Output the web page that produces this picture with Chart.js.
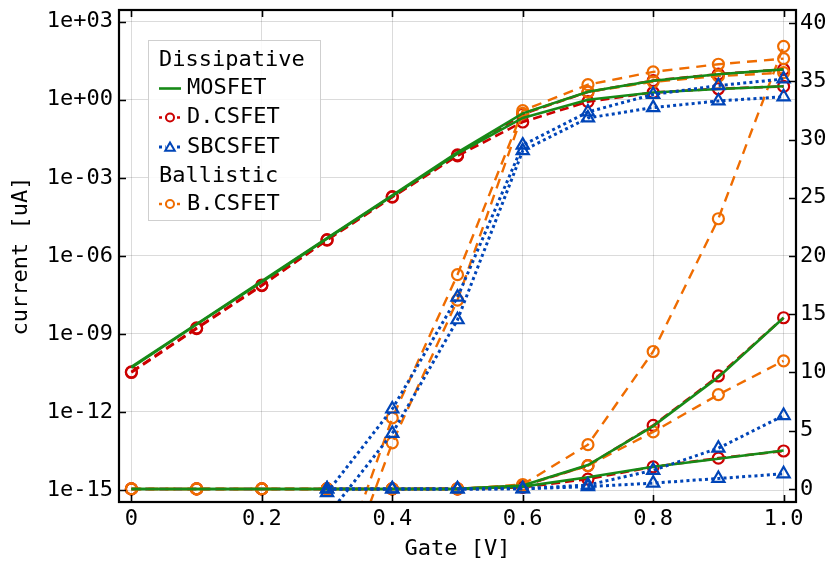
<!DOCTYPE html>
<html>
<head>
<meta charset="utf-8">
<script src="https://cdn.jsdelivr.net/npm/chart.js@4/dist/chart.umd.min.js"></script>
<style>
  html, body { margin: 0; padding: 0; background: #ffffff; }
  #wrap { width: 826px; height: 564px; }
</style>
</head>
<body>
<div id="wrap"><canvas id="c" width="826" height="564"></canvas></div>
<script>
// ---------------- data ----------------
const gateV = [0.0, 0.1, 0.2, 0.3, 0.4, 0.5, 0.6, 0.7, 0.8, 0.9, 1.0];

// currents in uA; each series is drawn twice: log (left) and linear (right)
const mosfetHigh  = [5.4e-11, 2.4e-9, 1.07e-7, 4.8e-6, 2.1e-4, 9.5e-3, 0.30, 2.05, 5.4, 9.6, 14.7];
const mosfetLow   = [5.0e-11, 2.3e-9, 1.0e-7, 4.6e-6, 2.0e-4, 8.5e-3, 0.20, 1.0, 1.9, 2.6, 3.3];
const dcsfetHigh  = [3.5e-11, 1.7e-9, 7.6e-8, 4.2e-6, 1.9e-4, 7.6e-3, 0.28, 2.0, 5.45, 9.7, 14.7];
const dcsfetLow   = [3.3e-11, 1.6e-9, 7.2e-8, 4.0e-6, 1.8e-4, 7.0e-3, 0.14, 0.85, 1.9, 2.65, 3.26];
const sbcsfetHigh = [null, null, null, 8e-16, 1.3e-12, 2.6e-8, 0.018, 0.34, 1.6, 3.5, 6.3];
const sbcsfetLow  = [null, null, null, 1e-16, 1.5e-13, 3.5e-9, 0.011, 0.2, 0.5, 0.9, 1.3];
const bcsfetHigh  = [1e-30, 1e-28, 1e-24, 5e-20, 5.9e-13, 1.9e-7, 0.38, 3.8, 11.8, 23.2, 38.0];
const bcsfetLow   = [1e-31, 1e-29, 1e-25, 1e-20, 6.5e-14, 2.0e-8, 0.30, 2.0, 4.9, 8.1, 11.0];

const xTickValues = [0, 0.2, 0.4, 0.6, 0.8, 1.0];
const xTickLabels = ['0', '0.2', '0.4', '0.6', '0.8', '1.0'];
const logTickValues = [1e3, 1e0, 1e-3, 1e-6, 1e-9, 1e-12, 1e-15];
const logTickLabels = ['1e+03', '1e+00', '1e-03', '1e-06', '1e-09', '1e-12', '1e-15'];
const linTickValues = [0, 5, 10, 15, 20, 25, 30, 35, 40];
const linTickLabels = ['0', '5', '10', '15', '20', '25', '30', '35', '40'];

// ---------------- styles ----------------
const FONT = '"DejaVu Sans Mono", "Liberation Mono", monospace';
const C_GREEN = '#178a17';
const C_RED = '#cc0000';
const C_BLUE = '#0045b8';
const C_ORANGE = '#ef6c00';

const styles = {
  mosfet:  { color: C_GREEN,  dash: [],      point: false,      radius: 0,   width: 2.6, order: 2 },
  dcsfet:  { color: C_RED,    dash: [9, 5],  point: 'circle',   radius: 5.5, width: 2.6, order: 4 },
  sbcsfet: { color: C_BLUE,   dash: [3, 3.2],point: 'triangle', radius: 7,   width: 3,   order: 1 },
  bcsfet:  { color: C_ORANGE, dash: [10, 7], point: 'circle',   radius: 5.5, width: 2.4, order: 3 }
};

function makeDataset(values, key, axis) {
  const st = styles[key];
  return {
    data: gateV.map((v, i) => ({ x: v, y: values[i] })),
    yAxisID: axis,
    borderColor: st.color,
    backgroundColor: 'rgba(0,0,0,0)',
    borderWidth: st.width,
    borderDash: st.dash,
    borderCapStyle: 'butt',
    pointStyle: st.point || 'circle',
    pointRadius: st.radius,
    pointBorderWidth: 2.2,
    pointBorderColor: st.color,
    pointBackgroundColor: 'rgba(0,0,0,0)',
    pointHoverRadius: st.radius,
    tension: 0,
    spanGaps: false,
    order: st.order
  };
}

const seriesList = [
  [mosfetHigh, 'mosfet'], [mosfetLow, 'mosfet'],
  [dcsfetHigh, 'dcsfet'], [dcsfetLow, 'dcsfet'],
  [sbcsfetHigh, 'sbcsfet'], [sbcsfetLow, 'sbcsfet'],
  [bcsfetHigh, 'bcsfet'], [bcsfetLow, 'bcsfet']
];
const datasets = [];
seriesList.forEach(([vals, key]) => {
  datasets.push(makeDataset(vals, key, 'yLog'));
  datasets.push(makeDataset(vals, key, 'yLin'));
});

// ---------------- legend (drawn on canvas) ----------------
const legendRows = [
  { text: 'Dissipative', header: true },
  { text: 'MOSFET', key: 'mosfet' },
  { text: 'D.CSFET', key: 'dcsfet' },
  { text: 'SBCSFET', key: 'sbcsfet' },
  { text: 'Ballistic', header: true },
  { text: 'B.CSFET', key: 'bcsfet' }
];

function drawMarker(ctx, style, x, y, r) {
  ctx.beginPath();
  if (style === 'triangle') {
    let rad = 0;
    ctx.moveTo(x + Math.sin(rad) * r, y - Math.cos(rad) * r);
    rad += 2 * Math.PI / 3;
    ctx.lineTo(x + Math.sin(rad) * r, y - Math.cos(rad) * r);
    rad += 2 * Math.PI / 3;
    ctx.lineTo(x + Math.sin(rad) * r, y - Math.cos(rad) * r);
    ctx.closePath();
  } else {
    ctx.arc(x, y, r, 0, Math.PI * 2);
  }
  ctx.stroke();
}

const framePlugin = {
  id: 'frameAndLegend',
  afterDraw(chart) {
    const ctx = chart.ctx;
    const a = chart.chartArea;
    const xs = chart.scales.x, yl = chart.scales.yLog, yr = chart.scales.yLin;
    ctx.save();
    // inward ticks
    ctx.strokeStyle = '#000';
    ctx.lineWidth = 1.6;
    const L = 7;
    ctx.beginPath();
    xTickValues.forEach(v => {
      const px = Math.round(xs.getPixelForValue(v)) + 0.5;
      ctx.moveTo(px, a.bottom); ctx.lineTo(px, a.bottom - L);
      ctx.moveTo(px, a.top); ctx.lineTo(px, a.top + L);
    });
    logTickValues.forEach(v => {
      const py = Math.round(yl.getPixelForValue(v)) + 0.5;
      ctx.moveTo(a.left, py); ctx.lineTo(a.left + L, py);
    });
    linTickValues.forEach(v => {
      const py = Math.round(yr.getPixelForValue(v)) + 0.5;
      ctx.moveTo(a.right, py); ctx.lineTo(a.right - L, py);
    });
    ctx.stroke();
    // frame
    ctx.lineWidth = 2.2;
    ctx.strokeRect(a.left, a.top, a.right - a.left, a.bottom - a.top);

    // legend
    const bx = 148.5, by = 40.5, bw = 172, bh = 180;
    ctx.fillStyle = 'rgba(255,255,255,0.85)';
    ctx.fillRect(bx, by, bw, bh);
    ctx.strokeStyle = '#cfcfcf';
    ctx.lineWidth = 1;
    ctx.strokeRect(bx, by, bw, bh);
    ctx.font = '22px ' + FONT;
    ctx.textBaseline = 'middle';
    ctx.textAlign = 'left';
    ctx.fillStyle = '#000';
    const rowY = [60, 88.5, 117.5, 147, 176, 204];
    legendRows.forEach((row, i) => {
      const y = rowY[i];
      if (row.header) {
        ctx.fillStyle = '#000';
        ctx.fillText(row.text, 159, y);
        return;
      }
      const st = styles[row.key];
      ctx.strokeStyle = st.color;
      ctx.lineWidth = st.width;
      ctx.setLineDash(st.point ? [3, 3] : []);
      ctx.beginPath();
      ctx.moveTo(159, y); ctx.lineTo(181, y);
      ctx.stroke();
      ctx.setLineDash([]);
      if (st.point) {
        ctx.fillStyle = '#fff';
        ctx.lineWidth = 2;
        ctx.beginPath();
        ctx.arc(170, y, 4.5, 0, Math.PI * 2);
        ctx.fill();
        drawMarker(ctx, st.point, 170, y + (st.point === 'triangle' ? 1 : 0), st.point === 'triangle' ? 5.5 : 4);
      }
      ctx.fillStyle = '#000';
      ctx.fillText(row.text, 187, y);
    });
    ctx.restore();
  }
};

function zeroPad(s) { s.paddingTop = 0; s.paddingBottom = 0; s.paddingLeft = 0; s.paddingRight = 0; }

const tickFont = { family: FONT, size: 22 };

new Chart(document.getElementById('c'), {
  type: 'line',
  data: { datasets },
  plugins: [framePlugin],
  options: {
    responsive: false,
    animation: false,
    devicePixelRatio: 1,
    layout: { padding: { top: 10, left: 0, right: 0, bottom: 0 } },
    plugins: { legend: { display: false }, tooltip: { enabled: false } },
    events: [],
    scales: {
      x: {
        type: 'linear',
        position: 'bottom',
        min: -0.019,
        max: 1.019,
        afterBuildTicks: s => { s.ticks = xTickValues.map(v => ({ value: v })); },
        afterFit: s => { s.height = 62; zeroPad(s); },
        ticks: {
          font: tickFont, color: '#000', padding: 4, maxRotation: 0, autoSkip: false,
          callback: v => xTickLabels[xTickValues.indexOf(v)]
        },
        grid: { color: 'rgba(0,0,0,0.14)', lineWidth: 1, drawTicks: false },
        border: { display: false },
        title: { display: true, text: 'Gate [V]', font: tickFont, color: '#000', padding: { top: 0, bottom: 2 } }
      },
      yLog: {
        type: 'logarithmic',
        position: 'left',
        min: Math.pow(10, -15.46),
        max: Math.pow(10, 3.45),
        afterBuildTicks: s => { s.ticks = logTickValues.map(v => ({ value: v })); },
        afterFit: s => { s.width = 119; zeroPad(s); },
        ticks: {
          font: tickFont, color: '#000', padding: 6, autoSkip: false,
          callback: v => logTickLabels[logTickValues.findIndex(t => Math.abs(Math.log10(t) - Math.log10(v)) < 1e-6)]
        },
        grid: { color: 'rgba(0,0,0,0.14)', lineWidth: 1, drawTicks: false },
        border: { display: false },
        title: { display: true, text: 'current [uA]', font: tickFont, color: '#000', padding: { top: 8, bottom: 0 } }
      },
      yLin: {
        type: 'linear',
        position: 'right',
        min: -1.12,
        max: 41.12,
        afterBuildTicks: s => { s.ticks = linTickValues.map(v => ({ value: v })); },
        afterFit: s => { s.width = 30; zeroPad(s); },
        ticks: {
          font: tickFont, color: '#000', padding: 4, autoSkip: false,
          callback: v => linTickLabels[linTickValues.indexOf(v)]
        },
        grid: { drawOnChartArea: false, drawTicks: false },
        border: { display: false }
      }
    }
  }
});
</script>
</body>
</html>
